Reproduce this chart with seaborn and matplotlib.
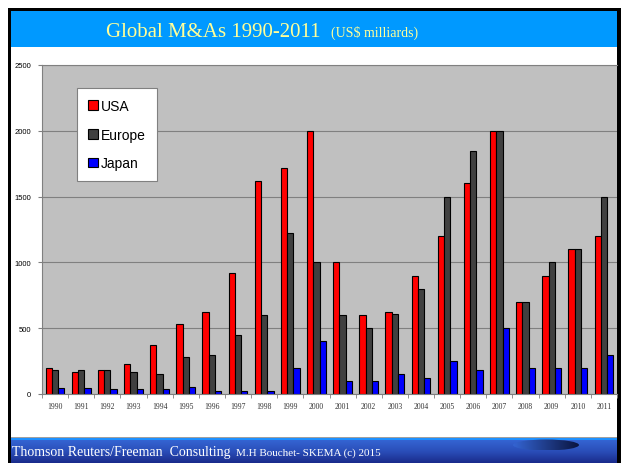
import numpy as np
import pandas as pd
import matplotlib
matplotlib.use('Agg')
import matplotlib.pyplot as plt
import seaborn as sns
from matplotlib.patches import Rectangle, Ellipse
from matplotlib.colors import LinearSegmentedColormap

# Données (US$ milliards)
years = [str(y) for y in range(1990, 2012)]
usa = [200, 170, 180, 230, 370, 530, 620, 920, 1620, 1720, 2000,
       1000, 600, 620, 900, 1200, 1600, 2000, 700, 900, 1100, 1200]
europe = [180, 180, 180, 165, 155, 280, 300, 450, 600, 1225, 1000,
          600, 500, 610, 800, 1500, 1850, 2000, 700, 1000, 1100, 1500]
japan = [45, 45, 35, 35, 35, 55, 25, 25, 20, 200, 400,
         100, 100, 150, 120, 250, 180, 500, 200, 200, 200, 300]
regions = ['USA', 'Europe', 'Japan']
colors = ['#FF0000', '#404040', '#0000FF']

df = pd.DataFrame({'year': years, 'USA': usa, 'Europe': europe, 'Japan': japan})
df_long = df.melt(id_vars='year', value_vars=regions, var_name='region', value_name='value')

W, H = 624, 464
fig = plt.figure(figsize=(W / 100, H / 100), dpi=100)
fig.patch.set_facecolor('white')

# Fond "diapo" en coordonnées pixels
bg = fig.add_axes([0, 0, 1, 1], zorder=0)
bg.set_xlim(0, W)
bg.set_ylim(H, 0)
bg.axis('off')

# bandeau titre
bg.add_patch(Rectangle((11, 12), 606, 36, facecolor='#0099FF', edgecolor='none'))
# pied de page
grad = np.linspace(0, 1, 50).reshape(-1, 1)
cmap_foot = LinearSegmentedColormap.from_list('foot', ['#3464D2', '#2A4DB8', '#1A2C8C'])
bg.imshow(grad, cmap=cmap_foot, extent=[11, 617, 464, 441], aspect='auto', zorder=1)
bg.add_patch(Rectangle((11, 437.5), 606, 1, facecolor='#A0A0A0', edgecolor='none', zorder=2))
bg.add_patch(Rectangle((11, 438.5), 606, 2.5, facecolor='#1E90FF', edgecolor='none', zorder=2))
# "swoosh" sombre
sw = Ellipse((546, 446), 66, 11, facecolor='none', edgecolor='none')
bg.add_patch(sw)
grad_h = np.linspace(0, 1, 100).reshape(1, -1)
cmap_sw = LinearSegmentedColormap.from_list('sw', ['#3464D2', '#0B1540'])
im = bg.imshow(grad_h, cmap=cmap_sw, extent=[513, 579, 451.5, 440.5], aspect='auto', zorder=3)
im.set_clip_path(sw)
bg.set_xlim(0, W)
bg.set_ylim(H, 0)

# cadre noir
bg.add_patch(Rectangle((8, 9), 613, 3, facecolor='black', edgecolor='none', zorder=4))
bg.add_patch(Rectangle((8, 9), 3, H - 9, facecolor='black', edgecolor='none', zorder=4))
bg.add_patch(Rectangle((617, 9), 4, H - 9, facecolor='black', edgecolor='none', zorder=4))

# titres
bg.text(106, 37, 'Global M&As 1990-2011', fontsize=15, family='Liberation Serif',
        color='#FFFF99', ha='left', va='baseline')
bg.text(331, 37, '(US$ milliards)', fontsize=10, family='Liberation Serif',
        color='#FFFF99', ha='left', va='baseline')
bg.text(12, 456, 'Thomson Reuters/Freeman  Consulting', fontsize=10, family='Liberation Serif',
        color='white', ha='left', va='baseline')
bg.text(236, 456, 'M.H Bouchet- SKEMA (c) 2015', fontsize=8, family='Liberation Serif',
        color='white', ha='left', va='baseline')

# Graphique principal
ax = fig.add_axes([42 / W, (H - 395) / H, 575 / W, 329 / H], zorder=1)
ax.set_facecolor('#C0C0C0')
sns.barplot(data=df_long, x='year', y='value', hue='region', hue_order=regions,
            palette=colors, saturation=1, edgecolor='black', linewidth=0.8,
            width=0.72, ax=ax)

ax.set_ylim(0, 2500)
ax.set_yticks(range(0, 2501, 500))
ax.set_xlim(-0.5, len(years) - 0.5)
ax.set_xlabel('')
ax.set_ylabel('')
ax.yaxis.grid(True, color='#808080', linewidth=0.8)
ax.set_axisbelow(True)
for side in ['left', 'top', 'bottom']:
    ax.spines[side].set_color('#808080')
ax.spines['right'].set_visible(False)

ax.set_xticks(np.arange(-0.5, len(years), 1), minor=True)
ax.tick_params(axis='x', which='major', length=0, pad=6, labelsize=5.5)
ax.tick_params(axis='x', which='minor', length=3, color='#808080')
ax.tick_params(axis='y', length=3, color='#808080', labelsize=5.5, pad=5)
for lab in ax.get_xticklabels():
    lab.set_family('Liberation Serif')
    lab.set_color('#333333')
for lab in ax.get_yticklabels():
    lab.set_family('Liberation Sans')

handles, labels = ax.get_legend_handles_labels()
leg = ax.legend(handles, labels, loc='upper left', bbox_to_anchor=(0.061, 0.93),
                frameon=True, fancybox=False, edgecolor='#808080', framealpha=1,
                prop={'family': 'Liberation Sans', 'size': 10},
                handlelength=0.7, handleheight=0.7, handletextpad=0.2,
                labelspacing=1.05, borderpad=0.8, borderaxespad=0)
leg.get_frame().set_linewidth(0.8)

fig.savefig('out.png', dpi=100)
